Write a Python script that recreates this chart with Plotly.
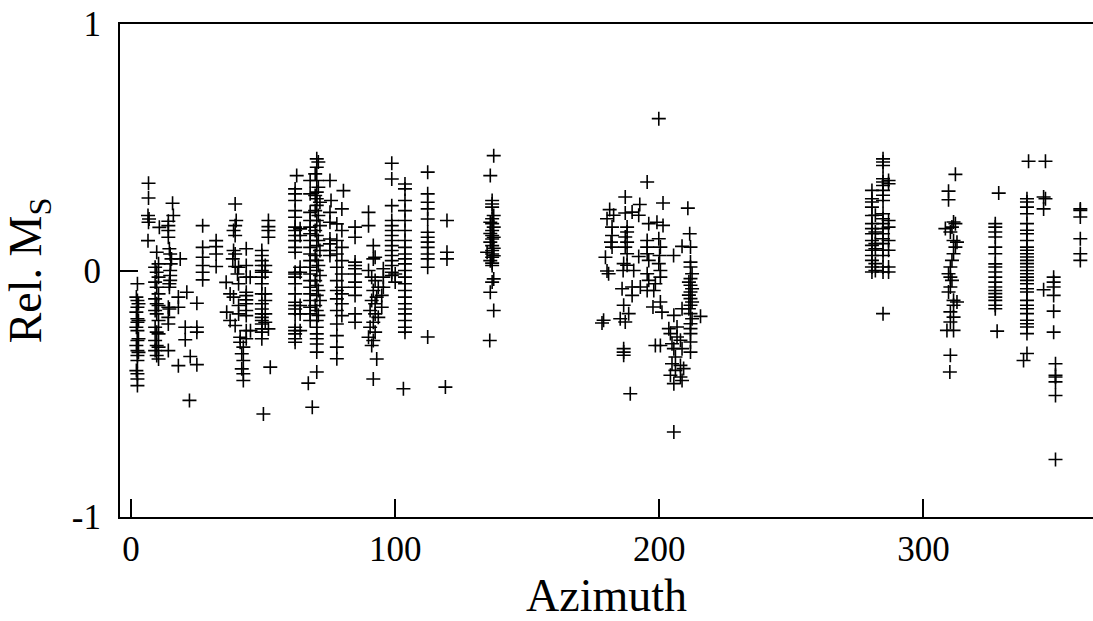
import plotly.graph_objects as go

# ---- data: (azimuth, relative Ms) ----
sector_0_30 = [
    # column ~2
    (2.4, -0.054), (2.0, -0.108), (2.4, -0.122), (2.8, -0.135), (2.4, -0.149), (2.0, -0.169),
    (2.4, -0.196), (2.8, -0.203), (2.4, -0.210), (2.0, -0.230), (2.4, -0.244), (2.8, -0.277),
    (2.4, -0.284), (2.0, -0.304), (2.4, -0.325), (2.8, -0.332), (2.4, -0.345), (2.4, -0.365),
    (2.0, -0.406), (2.4, -0.419), (2.4, -0.440), (2.4, -0.467),
    # column ~6.5
    (6.6, 0.354), (6.6, 0.294), (6.4, 0.223), (6.8, 0.209), (6.6, 0.196), (6.4, 0.121),
    # column ~10
    (9.7, 0.074), (10.4, 0.027), (9.1, 0.013), (9.7, -0.007), (10.4, -0.027), (9.1, -0.047),
    (9.7, -0.068), (10.4, -0.095), (9.1, -0.115), (9.7, -0.135), (10.4, -0.142), (9.1, -0.162),
    (9.7, -0.176), (10.4, -0.203), (9.1, -0.230), (9.7, -0.250), (10.4, -0.257), (9.1, -0.284),
    (9.7, -0.304), (10.4, -0.311), (9.1, -0.325), (9.7, -0.345), (10.4, -0.359), (10.7, 0.175),
    # column ~15
    (15.7, 0.273), (16.0, 0.223), (14.1, 0.200), (14.1, 0.182), (14.1, 0.162), (14.1, 0.135),
    (14.5, 0.088), (14.8, 0.067), (15.3, 0.047), (18.6, 0.047), (15.0, 0.027), (14.8, 0.0),
    (14.8, -0.020), (14.8, -0.040), (14.5, -0.054), (14.5, -0.068), (14.1, -0.149), (14.5, -0.156),
    (14.1, -0.190), (14.1, -0.217), (14.1, -0.325),
    # scattered 18-25
    (17.9, -0.108), (21.1, -0.088), (17.9, -0.149), (17.9, -0.386), (20.5, -0.230), (20.5, -0.281),
    (22.1, -0.527), (22.4, -0.349), (24.9, -0.133), (24.9, -0.230), (24.9, -0.250), (24.9, -0.382),
    # column ~27
    (27.1, 0.182), (27.1, 0.094), (27.1, 0.054), (27.1, 0.020), (27.1, -0.007), (27.1, -0.038),
]

sector_30_60 = [
    (32.2, 0.121), (32.2, 0.097), (32.2, 0.067), (32.2, 0.016),
    # column ~39
    (39.4, 0.270), (39.8, 0.203), (39.4, 0.182), (38.8, 0.162), (39.4, 0.142), (38.8, 0.081),
    (39.4, 0.067), (38.5, 0.047), (39.4, 0.016), (40.7, 0.013), (40.3, -0.014), (36.0, -0.048),
    (40.7, -0.054), (37.5, -0.095), (38.8, -0.108), (40.7, -0.142), (36.2, -0.169), (40.7, -0.176),
    (37.5, -0.203), (39.4, -0.223), (41.3, -0.271), (41.3, -0.291), (42.5, -0.311), (41.9, -0.338),
    (42.5, -0.365), (41.9, -0.399), (42.5, -0.419), (42.5, -0.446),
    # column ~43.6
    (43.6, 0.088), (43.6, 0.020), (43.6, -0.027), (43.6, -0.088), (43.6, -0.102), (43.6, -0.119),
    (43.6, -0.135), (43.6, -0.162), (43.6, -0.183), (43.6, -0.244), (43.6, -0.277),
    (45.1, -0.027), (45.2, -0.244),
    # column ~50
    (52.0, 0.203), (52.0, 0.178), (52.0, 0.162), (52.0, 0.135),
    (49.5, 0.081), (49.5, 0.061), (49.5, 0.040), (49.5, 0.020), (49.5, 0.0), (49.5, -0.007),
    (49.5, -0.027), (49.5, -0.054), (49.5, -0.095), (49.5, -0.135), (49.5, -0.156), (49.5, -0.176),
    (49.5, -0.190), (49.5, -0.203), (49.5, -0.217), (49.5, -0.237), (49.5, -0.250), (49.5, -0.277),
    (50.8, 0.020), (50.8, -0.007), (50.8, -0.095), (50.8, -0.122), (50.8, -0.176), (50.8, -0.210),
    (52.0, -0.237), (52.7, -0.392), (50.1, -0.582),
]

sector_60_90 = [
    # column ~62
    (62.1, 0.331), (62.1, 0.311), (62.1, 0.284), (62.1, 0.243), (62.1, 0.216), (62.1, 0.176),
    (62.1, 0.162), (62.1, 0.142), (62.1, 0.121), (62.1, 0.094), (62.1, 0.074), (62.1, -0.007),
    (62.1, -0.014), (62.1, -0.027), (62.1, -0.054), (62.1, -0.095), (62.1, -0.129), (62.1, -0.142),
    (62.1, -0.156), (62.1, -0.176), (62.1, -0.230), (62.1, -0.244), (62.1, -0.257), (62.1, -0.277),
    (62.1, -0.291), (62.7, 0.385),
    (64.0, 0.169), (64.0, 0.142), (64.0, 0.013), (64.0, -0.007), (64.0, -0.142), (64.0, -0.176),
    (64.0, -0.244),
    # column ~70
    (70.3, 0.453), (70.9, 0.440), (70.3, 0.419), (69.7, 0.392), (70.3, 0.365), (70.9, 0.338),
    (70.3, 0.318), (69.7, 0.304), (70.3, 0.291), (71.5, 0.277), (70.3, 0.264), (69.7, 0.243),
    (70.9, 0.223), (70.3, 0.203), (71.5, 0.182), (69.7, 0.162), (70.3, 0.142), (70.9, 0.122),
    (70.3, 0.101), (71.5, 0.081), (69.7, 0.061), (70.3, 0.041), (70.9, 0.020), (70.3, 0.0),
    (71.5, -0.020), (69.7, -0.041), (70.3, -0.061), (70.9, -0.081), (70.3, -0.101), (71.5, -0.122),
    (69.7, -0.142), (70.3, -0.162), (70.9, -0.182), (70.3, -0.203), (70.3, -0.230), (70.3, -0.257),
    (70.3, -0.277), (70.3, -0.298), (70.3, -0.331), (70.3, -0.412),
    (67.8, 0.365), (67.8, 0.311), (67.8, 0.236), (67.8, 0.203), (67.8, 0.176), (67.8, 0.149),
    (67.8, 0.122), (67.8, 0.094), (67.8, 0.067), (67.8, 0.040), (67.8, 0.013), (67.8, -0.014),
    (67.8, -0.041), (67.8, -0.068), (67.8, -0.095), (67.8, -0.122), (67.8, -0.149), (67.8, -0.176),
    (67.8, -0.203), (67.1, -0.457), (68.6, -0.555),
    (75.3, 0.365), (75.7, 0.284), (75.3, 0.236), (75.3, 0.196), (75.3, 0.128), (75.3, 0.108),
    (75.3, 0.081), (75.3, 0.061), (80.4, 0.324), (79.8, 0.250),
    # column ~78
    (77.9, 0.189), (79.8, 0.162), (77.9, 0.122), (79.8, 0.094), (77.9, 0.067), (79.8, 0.040),
    (77.9, 0.013), (79.8, -0.014), (77.9, -0.041), (79.8, -0.068), (77.9, -0.081), (79.8, -0.095),
    (77.9, -0.115), (79.8, -0.135), (77.9, -0.162), (79.8, -0.183), (77.9, -0.217), (77.9, -0.264),
    (77.9, -0.311), (77.9, -0.358),
    # column ~85
    (84.8, 0.176), (84.8, 0.135), (84.8, 0.034), (84.8, 0.020), (84.8, 0.007), (84.8, -0.014),
    (84.8, -0.047), (84.8, -0.068), (84.8, -0.101), (84.8, -0.176), (84.8, -0.210),
    (89.9, 0.236), (89.9, 0.182),
]

sector_90_140 = [
    (91.7, 0.101), (92.4, 0.054), (91.7, 0.047), (89.9, 0.0), (91.1, -0.027), (92.4, -0.041),
    (93.6, -0.068), (91.7, -0.081), (94.9, -0.101), (93.0, -0.108), (91.1, -0.122), (92.4, -0.135),
    (94.9, -0.149), (90.5, -0.162), (92.4, -0.176), (93.6, -0.190), (91.7, -0.210), (90.5, -0.230),
    (92.4, -0.250), (89.9, -0.271), (91.7, -0.284), (91.1, -0.304), (93.0, -0.359), (91.7, -0.440),
    (95.5, 0.007), (95.5, -0.027), (95.5, -0.068),
    # column ~99
    (98.7, 0.435), (98.7, 0.371), (98.7, 0.263), (98.7, 0.203), (98.7, 0.182), (98.7, 0.162),
    (98.7, 0.142), (98.7, 0.122), (98.7, 0.101), (98.7, 0.081), (98.7, 0.061), (98.7, 0.040),
    (98.7, 0.020), (98.7, -0.007), (98.7, -0.020), (100.0, -0.014), (100.0, -0.047),
    # column ~104
    (103.7, 0.351), (103.7, 0.331), (103.7, 0.284), (103.7, 0.243), (103.7, 0.203), (103.7, 0.162),
    (103.7, 0.122), (103.7, 0.094), (103.7, 0.067), (103.7, 0.047), (103.7, 0.027), (103.7, 0.0),
    (103.7, -0.027), (103.7, -0.054), (103.7, -0.081), (103.7, -0.108), (103.7, -0.135),
    (103.7, -0.156), (103.7, -0.176), (103.7, -0.203), (103.7, -0.230), (103.7, -0.250),
    (103.1, -0.480),
    # column ~112
    (112.3, 0.399), (112.3, 0.311), (112.3, 0.277), (112.3, 0.250), (112.3, 0.209), (112.3, 0.155),
    (112.3, 0.135), (112.3, 0.115), (112.3, 0.094), (112.3, 0.067), (112.3, 0.047), (112.3, 0.013),
    (112.3, -0.270),
    (119.6, 0.203), (119.6, 0.074), (119.6, 0.047), (119.0, -0.473),
    # column ~137
    (137.3, 0.466), (136.0, 0.385), (136.7, 0.284), (136.7, 0.270), (136.7, 0.257), (137.3, 0.223),
    (136.7, 0.210), (136.0, 0.196), (136.7, 0.190), (137.3, 0.176), (136.7, 0.162), (136.0, 0.150),
    (136.7, 0.142), (137.3, 0.135), (136.7, 0.128), (136.0, 0.115), (136.7, 0.101), (137.3, 0.090),
    (136.7, 0.081), (134.8, 0.074), (136.7, 0.067), (137.3, 0.060), (136.7, 0.054), (136.0, 0.040),
    (136.7, 0.030), (136.7, 0.020), (137.3, -0.034), (136.7, -0.047), (136.0, -0.088),
    (137.3, -0.162), (135.8, -0.284),
]

sector_175_220 = [
    (199.8, 0.616), (195.4, 0.359), (187.1, 0.298), (192.6, 0.268), (201.4, 0.274), (210.8, 0.253),
    (181.2, 0.247), (182.7, 0.224), (180.2, 0.210), (187.1, 0.233), (189.7, 0.237), (192.2, 0.224),
    (196.0, 0.190), (199.1, 0.196), (201.4, 0.183), (182.1, 0.176), (187.8, 0.176), (187.8, 0.156),
    (187.1, 0.136), (187.8, 0.115), (187.1, 0.095), (187.8, 0.068), (182.1, 0.142), (181.7, 0.115),
    (182.1, 0.095), (179.6, 0.054), (180.2, -0.002), (180.8, -0.013), (195.4, 0.122), (195.4, 0.095),
    (195.4, 0.068), (196.0, 0.041), (199.8, 0.129), (200.4, 0.095), (200.1, 0.061), (199.8, 0.028),
    (200.4, 0.0), (200.4, -0.027), (192.2, 0.057), (186.5, 0.028), (187.8, 0.021), (186.3, 0.0),
    (190.3, 0.0), (195.4, -0.013), (196.0, -0.040), (195.4, -0.081), (198.5, -0.054), (197.9, -0.081),
    (185.9, -0.074), (189.7, -0.067), (192.8, -0.067), (189.7, -0.101), (186.5, -0.141),
    (200.4, -0.128), (201.0, -0.169), (197.6, -0.148), (188.4, -0.175), (185.2, -0.196),
    (187.1, -0.209), (178.9, -0.202), (178.3, -0.213), (205.4, 0.061), (208.6, 0.098),
    (211.5, 0.149), (211.8, 0.095),
    # dense column ~212
    (211.8, 0.034), (211.8, 0.014), (212.4, -0.013), (211.8, -0.033), (211.2, -0.047), (211.8, -0.060),
    (212.4, -0.074), (211.8, -0.087), (211.2, -0.100), (211.8, -0.114), (212.4, -0.128),
    (211.8, -0.141), (211.2, -0.155), (211.8, -0.175), (212.4, -0.196), (211.8, -0.216),
    (211.8, -0.236), (211.8, -0.256), (211.8, -0.290), (211.8, -0.331), (215.6, -0.186),
    (208.6, -0.155),
    # cluster ~204-209
    (205.5, -0.182), (203.6, -0.236), (206.7, -0.229), (204.2, -0.256), (206.7, -0.270),
    (204.8, -0.297), (208.0, -0.283), (205.5, -0.317), (208.6, -0.317), (206.1, -0.351),
    (204.8, -0.378), (208.0, -0.385), (209.2, -0.398), (206.1, -0.405), (204.2, -0.425),
    (208.0, -0.432), (205.5, -0.459), (208.6, -0.446),
    (198.5, -0.304), (200.4, -0.304), (186.5, -0.317), (186.5, -0.331), (186.5, -0.344),
    (189.0, -0.500), (205.5, -0.655),
]

sector_275_362 = [
    # column ~285
    (284.7, 0.453), (284.7, 0.440), (284.7, 0.426), (284.7, 0.372), (284.7, 0.359), (284.7, 0.345),
    (284.7, 0.325), (284.7, 0.305), (284.7, 0.284), (284.7, 0.230), (284.7, 0.210), (284.7, 0.190),
    (284.7, 0.170), (284.7, 0.149), (284.7, 0.129), (284.7, 0.109), (284.7, 0.082), (284.7, 0.061),
    (284.7, 0.014), (284.7, -0.006), (284.7, -0.175),
    (286.8, 0.365), (286.8, 0.352), (286.8, 0.203), (286.8, 0.176), (286.8, 0.122), (286.8, 0.082),
    (286.8, 0.014), (286.8, -0.006),
    (280.5, 0.325), (280.5, 0.291), (280.5, 0.278), (280.5, 0.257), (280.5, 0.223), (280.5, 0.190),
    (280.5, 0.170), (280.5, 0.149), (280.5, 0.122), (280.5, 0.102), (280.5, 0.082), (280.5, 0.061),
    (280.5, 0.041), (280.5, 0.014), (280.5, -0.006),
    (281.8, 0.224), (281.8, 0.156), (281.8, 0.109), (281.8, 0.088), (281.8, 0.028), (281.8, 0.0),
    # column ~310
    (312.1, 0.390), (309.5, 0.322), (309.5, 0.287), (311.4, 0.197), (312.1, 0.190), (310.8, 0.176),
    (308.3, 0.170), (310.2, 0.156), (311.4, 0.122), (312.7, 0.115), (312.1, 0.095), (311.4, 0.068),
    (310.8, 0.041), (310.2, 0.014), (309.5, -0.013), (310.2, -0.027), (310.8, -0.040),
    (310.2, -0.067), (309.5, -0.087), (311.4, -0.121), (312.7, -0.128), (311.4, -0.141),
    (310.2, -0.168), (311.4, -0.189), (310.2, -0.209), (308.9, -0.243), (311.4, -0.243),
    (310.2, -0.344), (310.0, -0.412),
    # column ~327
    (328.5, 0.314), (327.2, 0.190), (327.2, 0.176), (327.2, 0.156), (327.2, 0.136), (327.2, 0.095),
    (327.2, 0.068), (327.2, 0.027), (327.2, 0.014), (327.2, -0.006), (327.2, -0.027),
    (327.2, -0.047), (327.2, -0.067), (327.2, -0.081), (327.2, -0.094), (327.2, -0.108),
    (327.2, -0.121), (327.2, -0.141), (327.2, -0.155), (327.9, -0.246),
    # column ~339
    (339.8, 0.443), (339.2, 0.291), (339.2, 0.278), (339.2, 0.257), (339.2, 0.230), (339.2, 0.190),
    (339.2, 0.163), (339.2, 0.149), (339.2, 0.122), (339.2, 0.095), (339.2, 0.082), (339.2, 0.068),
    (339.2, 0.055), (339.2, 0.041), (339.2, 0.028), (339.2, 0.014), (339.2, 0.0), (339.2, -0.013),
    (339.2, -0.027), (339.2, -0.040), (339.2, -0.054), (339.2, -0.074), (339.2, -0.087),
    (339.2, -0.121), (339.2, -0.141), (339.2, -0.155), (339.2, -0.175), (339.2, -0.202),
    (339.2, -0.216), (339.2, -0.229), (339.2, -0.256), (339.2, -0.337), (337.9, -0.365),
    # column ~346-350
    (346.2, 0.443), (345.5, 0.298), (346.2, 0.291), (345.5, 0.250), (345.5, -0.078),
    (349.3, -0.027), (349.3, -0.047), (349.3, -0.067), (349.3, -0.101), (349.3, -0.165),
    (349.3, -0.250), (350.0, -0.378), (350.0, -0.425), (350.0, -0.432), (350.0, -0.452),
    (350.0, -0.507), (350.0, -0.767),
    # column ~359
    (359.4, 0.250), (359.4, 0.244), (359.4, 0.217), (359.4, 0.129), (359.4, 0.068), (359.4, 0.041),
]

x_tick_values = [0, 100, 200, 300]
x_tick_labels = ["0", "100", "200", "300"]
y_tick_values = [-1, 0, 1]
y_tick_labels = ["-1", "0", "1"]

sectors = [sector_0_30, sector_30_60, sector_60_90, sector_90_140, sector_175_220, sector_275_362]
azimuth = [p[0] for s in sectors for p in s]
rel_ms = [p[1] for s in sectors for p in s]

FONT = "Liberation Serif, Times New Roman, serif"

fig = go.Figure(go.Scatter(
    x=azimuth, y=rel_ms, mode="markers",
    marker=dict(symbol="cross-thin", size=10, color="black",
                line=dict(width=1.6, color="black")),
    hoverinfo="skip", showlegend=False,
))

fig.update_layout(
    width=1093, height=621, autosize=False,
    margin=dict(l=120, r=0, t=24, b=104),
    paper_bgcolor="white", plot_bgcolor="white",
    font=dict(family=FONT, color="black"),
)
fig.update_xaxes(
    range=[-4.2, 364.2], tickvals=x_tick_values, ticktext=x_tick_labels,
    ticks="inside", ticklen=18, tickwidth=1.5, tickcolor="black",
    showline=True, linecolor="black", linewidth=2, mirror=True,
    showgrid=False, zeroline=False,
    tickfont=dict(size=35, family=FONT),
    title=dict(text="Azimuth", font=dict(size=46, family=FONT), standoff=12),
)
fig.update_yaxes(
    range=[-1, 1], tickvals=y_tick_values, ticktext=y_tick_labels,
    ticks="inside", ticklen=18, tickwidth=1.5, tickcolor="black",
    showline=True, linecolor="black", linewidth=2, mirror=False,
    showgrid=False, zeroline=False,
    ticklabelstandoff=10,
    tickfont=dict(size=35, family=FONT),
    title=dict(text="Rel. M<sub>S</sub>", font=dict(size=46, family=FONT), standoff=16),
)

fig.write_html("out.html")
